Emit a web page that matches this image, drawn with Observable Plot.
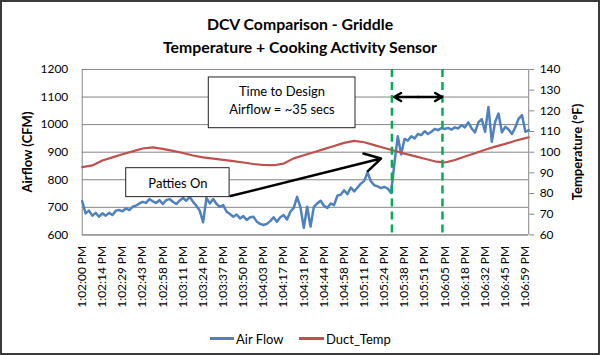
<!DOCTYPE html>
<html><head><meta charset="utf-8">
<script src="https://cdn.jsdelivr.net/npm/d3@7"></script>
<script src="https://cdn.jsdelivr.net/npm/@observablehq/plot@0.6"></script>
<style>
html,body{margin:0;padding:0;background:#fff;}
#frame{position:relative;width:600px;height:355px;box-sizing:border-box;border:2px solid #3a3a3a;overflow:hidden;font-family:Lato,"Open Sans",sans-serif;color:#000;background:#fff;}
#title{position:absolute;left:-2px;top:10px;width:600px;text-align:center;font-weight:bold;font-size:15.8px;line-height:23px;}
#chart{position:absolute;left:-2px;top:58px;}
.ytitle{position:absolute;font-weight:bold;font-size:13px;white-space:nowrap;transform:translate(-50%,-50%) rotate(-90deg);}
#legend{position:absolute;top:328px;left:-2px;width:600px;height:18px;font-size:13px;}
.sw{position:absolute;height:3px;top:7px;}
.lt{position:absolute;top:0;line-height:18px;}
</style></head>
<body>
<div id="frame">
  <div id="title">DCV Comparison - Griddle<br>Temperature + Cooking Activity Sensor</div>
  <div id="chart"></div>
  <div class="ytitle" style="left:25px;top:150px;">Airflow (CFM)</div>
  <div class="ytitle" style="left:575px;top:150px;">Temperature (°F)</div>
  <div id="legend">
    <div class="sw" style="left:210px;width:24px;background:#4F81BD"></div><div class="lt" style="left:236px">Air Flow</div>
    <div class="sw" style="left:299px;width:25px;background:#C0504D"></div><div class="lt" style="left:326px">Duct_Temp</div>
  </div>
</div>
<script>
// ---- data ----
const timeLabels = ["1:02:00 PM","1:02:14 PM","1:02:29 PM","1:02:43 PM","1:02:58 PM","1:03:11 PM","1:03:24 PM","1:03:37 PM","1:03:50 PM","1:04:03 PM","1:04:17 PM","1:04:31 PM","1:04:44 PM","1:04:58 PM","1:05:11 PM","1:05:24 PM","1:05:38 PM","1:05:51 PM","1:06:05 PM","1:06:18 PM","1:06:32 PM","1:06:45 PM","1:06:59 PM"];
const labelStep = 6; // samples between labelled ticks
const airFlow = [722,678,688,670,680,666,678,670,680,672,688,690,686,696,690,702,706,714,720,716,
730,722,716,726,712,726,730,720,712,724,734,724,738,720,706,688,646,734,714,730,
712,702,708,684,676,666,674,660,668,654,664,666,648,640,636,640,650,664,648,664,
672,656,684,698,738,700,626,702,630,702,714,724,706,698,714,708,742,746,762,748,
772,758,772,786,796,826,794,780,776,770,774,768,752,860,958,892,948,942,958,950,
966,962,976,966,974,984,980,988,984,988,982,990,986,998,990,1008,986,972,1008,1020,
974,1064,938,1010,1040,972,992,982,966,990,1022,1034,974,980];
const tempStep = 3; // Duct_Temp read every 3 samples, last one at the final sample
const ductTemp = [92.8,93.6,96.0,97.5,99.0,100.4,101.8,102.3,101.6,100.6,99.6,98.4,97.5,96.9,96.3,95.7,95.0,94.3,93.8,93.7,
94.5,97.0,98.5,100.0,101.5,103.0,104.5,105.5,104.8,103.4,102.0,100.7,99.3,98.1,96.8,95.6,95.0,96.2,97.9,99.5,
101.2,102.7,104.0,105.5,106.8,107.2];
const cfmTicks = [600,700,800,900,1000,1100,1200];
const tempTicks = [60,70,80,90,100,110,120,130,140];
const designMarks = [92.25, 107.3];            // green dashed lines (sample index)
const timeArrow = {from:92.9, to:107.2, cfm:1100};
const pattiesArrow = [{x1:44.2, y1:741, x2:89.0, y2:877}];
const boxes = [
  {x1:37.7, x2:81.4, y1:987, y2:1171, label:"Time to Design\nAirflow = ~35 secs", cx:59.5, cy:1092},
  {x1:13.1, x2:43.9, y1:737, y2:842, label:"Patties On", cx:28.5, cy:789}
];

// ---- build ----
const N = airFlow.length;
const toCfm = t => 600 + (t - 60) * 7.5;
const fromCfm = v => String(Math.round(60 + (v - 600) / 7.5));
const flowData = airFlow.map((v, i) => ({i, v}));
const tempData = ductTemp.map((t, k) => ({i: k === ductTemp.length - 1 ? N - 1 : k * tempStep, t}));
const labelIdx = timeLabels.map((_, j) => j * labelStep);
const mid = (timeArrow.from + timeArrow.to) / 2;
const dblArrow = [
  {x1: mid, x2: timeArrow.from, y: timeArrow.cfm},
  {x1: mid, x2: timeArrow.to, y: timeArrow.cfm}
];
const grey = "#868686";

const chart = Plot.plot({
  width: 600, height: 260,
  marginTop: 9, marginBottom: 85, marginLeft: 82, marginRight: 70,
  style: {fontFamily: "Lato, 'Open Sans', sans-serif", fontSize: "12px", color: "#000", background: "transparent"},
  x: {domain: [0, N - 1]},
  y: {domain: [600, 1200]},
  marks: [
    Plot.gridY(cfmTicks, {stroke: grey, strokeOpacity: 1, strokeWidth: 1}),
    Plot.ruleX([0, N - 1], {stroke: grey}),
    Plot.ruleY([600], {stroke: grey}),
    Plot.line(flowData, {x: "i", y: "v", stroke: "#4F81BD", strokeWidth: 2.5, strokeLinejoin: "round"}),
    Plot.line(tempData, {x: "i", y: d => toCfm(d.t), stroke: "#C0504D", strokeWidth: 2.2}),
    Plot.rect(boxes, {x1: "x1", x2: "x2", y1: "y1", y2: "y2", fill: "white", stroke: "#222", strokeWidth: 1}),
    Plot.text(boxes, {x: "cx", y: "cy", text: "label", fontSize: 13, lineHeight: 1.35, fill: "#000"}),
    Plot.ruleX(designMarks, {stroke: "#00B050", strokeWidth: 2.5, strokeDasharray: "8,5"}),
    Plot.arrow(pattiesArrow, {x1: "x1", y1: "y1", x2: "x2", y2: "y2", stroke: "#000", strokeWidth: 2.5, headLength: 11, headAngle: 60}),
    Plot.arrow(dblArrow, {x1: "x1", y1: "y", x2: "x2", y2: "y", stroke: "#000", strokeWidth: 2.5, headLength: 11, headAngle: 60}),
    Plot.axisY(cfmTicks, {anchor: "left", tickSize: 0, tickPadding: 14, tickFormat: d => String(d), label: null, fontSize: 12}),
    Plot.axisY(tempTicks.map(toCfm), {anchor: "right", tickSize: 5, tickPadding: 6, stroke: grey, tickFormat: fromCfm, label: null, fontSize: 12}),
    Plot.axisX(labelIdx, {anchor: "bottom", tickSize: 0, tickPadding: 11, tickRotate: -90, tickFormat: i => timeLabels[i / labelStep], label: null, fontSize: 12})
  ]
});
document.getElementById("chart").appendChild(chart);
</script>
</body></html>
